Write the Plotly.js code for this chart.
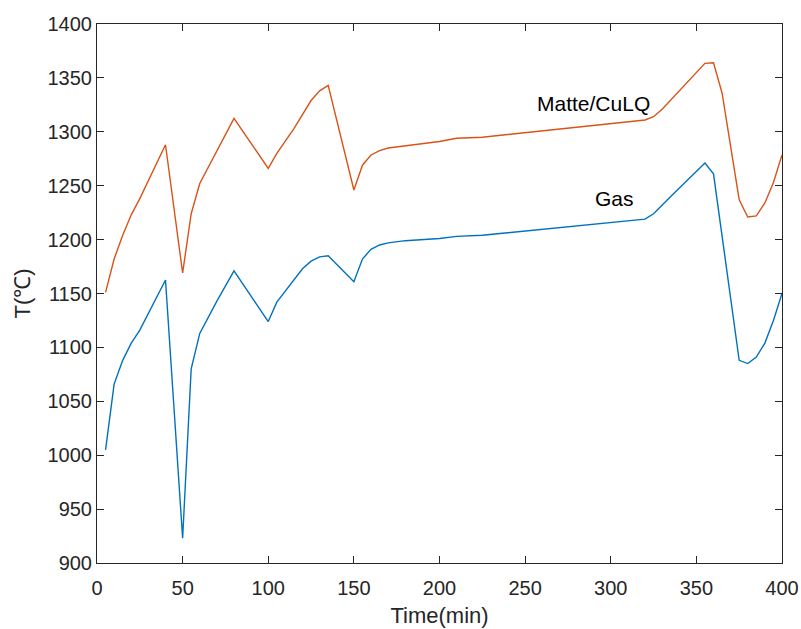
<!DOCTYPE html>
<html>
<head>
<meta charset="utf-8">
<script src="https://cdn.plot.ly/plotly-3.0.1.min.js"></script>
<style>html,body{margin:0;padding:0;background:#fff;}#chart{width:801px;height:629px;}</style>
</head>
<body>
<div id="chart"></div>
<script>
// Time (min) and temperatures (°C)
const matteTime = [5,10,15,20,25,40,50,55,60,80,100,105,115,125,130,135,150,155,160,165,170,180,200,210,225,320,325,330,355,360,365,375,380,385,390,395,400];
const matteTemp = [1151,1182,1204,1223,1238,1288,1169,1224,1252,1312.5,1266,1280,1303,1329,1338,1343,1246,1269,1278.5,1282.5,1285,1287,1291,1294,1295,1311,1314,1321,1363.5,1364,1336,1237,1221,1222,1234,1253,1278.5];

const gasTime = [5,10,15,20,25,40,50,55,60,70,80,100,105,110,115,120,125,130,135,150,155,160,165,170,180,200,210,225,320,325,335,355,360,375,380,385,390,395,400];
const gasTemp = [1005,1066,1088,1104,1116,1162.5,923,1080,1113,1143,1171,1124,1142,1152,1163,1173,1180,1184,1185,1161,1182,1191,1195,1197,1199,1201,1203,1204,1219,1224,1240,1271,1261,1088,1085,1091,1104,1125,1150];

const labelMatte = {text: 'Matte/CuLQ', x: 290, y: 1326};
const labelGas = {text: 'Gas', x: 302, y: 1238.5};

const xTitle = 'Time(min)';
const yTitle = 'T(℃)';

const axisColor = '#262626';
const font = 'Liberation Sans, Arial, sans-serif';

const traces = [
  {x: gasTime, y: gasTemp, mode: 'lines', line: {color: '#0072BD', width: 1.4}, name: 'Gas'},
  {x: matteTime, y: matteTemp, mode: 'lines', line: {color: '#D95319', width: 1.4}, name: 'Matte/CuLQ'}
];

const axisCommon = {
  showgrid: false, zeroline: false, showline: true, linecolor: axisColor, linewidth: 1,
  mirror: 'ticks', ticks: 'inside', ticklen: 7, tickcolor: axisColor, tickwidth: 1,
  tickfont: {family: font, size: 20, color: axisColor}
};

const layout = {
  width: 801, height: 629,
  margin: {l: 97, r: 19, t: 24, b: 66},
  paper_bgcolor: '#fff', plot_bgcolor: '#fff',
  showlegend: false,
  font: {family: font, color: axisColor},
  xaxis: Object.assign({}, axisCommon, {
    range: [0, 400], dtick: 50, tick0: 0, ticklabelstandoff: 7,
    title: {text: xTitle, font: {family: font, size: 22, color: axisColor}, standoff: 9}
  }),
  yaxis: Object.assign({}, axisCommon, {
    range: [900, 1400], dtick: 50, tick0: 900,
    title: {text: yTitle, font: {family: font, size: 22, color: axisColor}, standoff: 10}
  }),
  annotations: [
    {x: labelMatte.x, y: labelMatte.y, text: labelMatte.text, showarrow: false, font: {family: font, size: 21, color: '#000'}},
    {x: labelGas.x, y: labelGas.y, text: labelGas.text, showarrow: false, font: {family: font, size: 21, color: '#000'}}
  ]
};

Plotly.newPlot('chart', traces, layout, {staticPlot: true, displayModeBar: false});
</script>
</body>
</html>
